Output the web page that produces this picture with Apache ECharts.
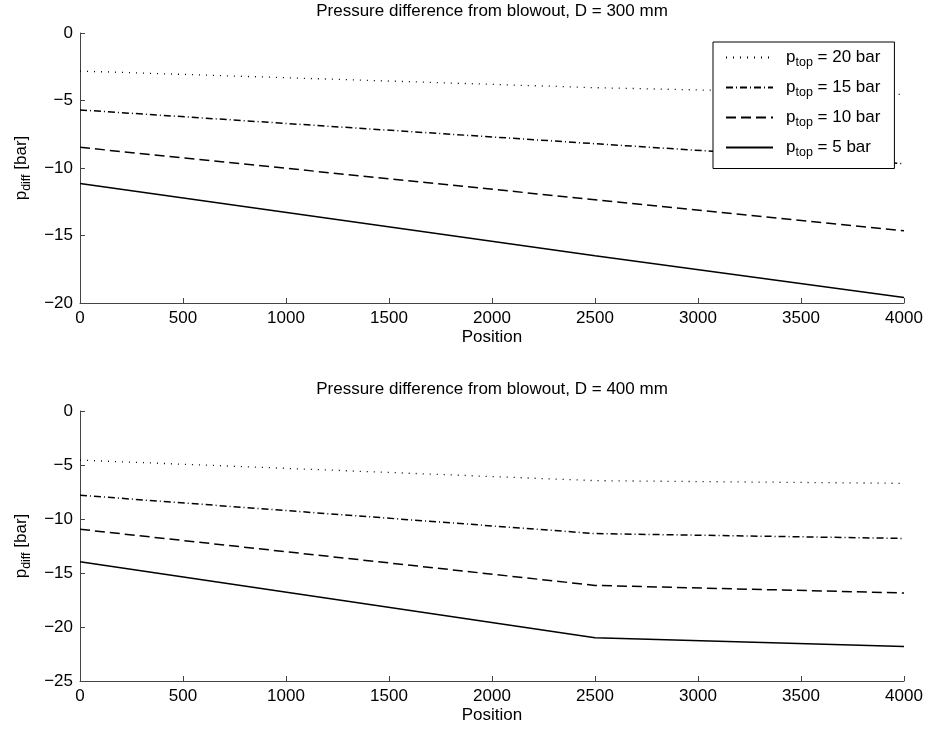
<!DOCTYPE html>
<html>
<head>
<meta charset="utf-8">
<script src="https://cdn.jsdelivr.net/npm/echarts@6/dist/echarts.min.js"></script>
<style>
html,body{margin:0;padding:0;background:#fff;}
#chart{width:928px;height:733px;}
</style>
</head>
<body>
<div id="chart"></div>
<script>
const positions = [0, 2500, 4000];
const ptopLabels = ['20', '15', '10', '5'];

const top20 = [-2.82, -4.05, -4.55];
const top15 = [-5.7, -8.2, -9.68];
const top10 = [-8.47, -12.35, -14.65];
const top5  = [-11.14, -16.5, -19.6];

const bot20 = [-4.55, -6.45, -6.7];
const bot15 = [-7.8, -11.35, -11.8];
const bot10 = [-10.95, -16.15, -16.85];
const bot5  = [-13.95, -21.0, -21.8];

const titles = ['Pressure difference from blowout, D = 300 mm', 'Pressure difference from blowout, D = 400 mm'];

const FONT = 'Liberation Sans, Arial, sans-serif';
const FS = 17, SFS = 12.5;
const lineTypes = [[1, 6], [7, 3, 1, 3], [10, 5], 'solid'];

const topSeries = [top20, top15, top10, top5];
const botSeries = [bot20, bot15, bot10, bot5];

function pairs(vals) { return positions.map((p, i) => [p, vals[i]]); }

const series = [];
[topSeries, botSeries].forEach((set, gi) => {
  set.forEach((vals, si) => {
    series.push({
      type: 'line',
      name: ptopLabels[si],
      xAxisIndex: gi, yAxisIndex: gi,
      data: pairs(vals),
      symbol: 'none',
      color: '#000',
      animation: false,
      lineStyle: { color: '#000', width: si === 0 ? 1.3 : 1.5, type: lineTypes[si] }
    });
  });
});

const gridL = 80, gridR = 24, gridH = 270;
const tops = [33, 411];

const rich = {
  p: { fontFamily: FONT, fontSize: FS, color: '#000' },
  s: { fontFamily: FONT, fontSize: SFS, color: '#000', padding: [11, 0, 0, 0] }
};

function xAxis(i) {
  return {
    type: 'value', gridIndex: i, min: 0, max: 4000, interval: 500,
    name: 'Position', nameLocation: 'middle', nameGap: 26,
    nameTextStyle: { fontFamily: FONT, fontSize: FS, color: '#000' },
    axisLine: { show: true, onZero: false, lineStyle: { color: '#444', width: 1 } },
    axisTick: { show: true, inside: true, length: 5, lineStyle: { color: '#444' } },
    axisLabel: { fontFamily: FONT, fontSize: FS, color: '#000', margin: 7, formatter: v => String(v) },
    splitLine: { show: false }
  };
}
function yAxis(i, min) {
  return {
    type: 'value', gridIndex: i, min: min, max: 0, interval: 5,
    name: '{p|p}{s|diff}{p| [bar]}', nameLocation: 'middle', nameGap: 46, nameRotate: 90,
    nameTextStyle: { fontFamily: FONT, fontSize: FS, color: '#000', rich: rich },
    axisLine: { show: true, onZero: false, lineStyle: { color: '#444', width: 1 } },
    axisTick: { show: true, inside: true, length: 5, lineStyle: { color: '#444' } },
    axisLabel: { fontFamily: FONT, fontSize: FS, color: '#000', margin: 7,
      formatter: v => String(v).replace('-', '\u2212') },
    splitLine: { show: false }
  };
}

const option = {
  backgroundColor: '#fff',
  animation: false,
  grid: tops.map(t => ({ left: gridL, right: gridR, top: t, height: gridH, containLabel: false })),
  xAxis: [xAxis(0), xAxis(1)],
  yAxis: [yAxis(0, -20), yAxis(1, -25)],
  legend: {
    data: ptopLabels,
    orient: 'vertical',
    left: 713, top: 42,
    itemWidth: 47, itemHeight: 14, itemGap: 9.5,
    padding: [7, 14, 9, 12],
    borderColor: '#000', borderWidth: 1, backgroundColor: '#fff',
    selectedMode: false,
    itemStyle: { opacity: 0, color: 'transparent', borderWidth: 0 },
    textStyle: { fontFamily: FONT, fontSize: FS, color: '#000',
      rich: {
        q: { fontFamily: FONT, fontSize: FS, color: '#000', padding: [0, 0, 0, 8] },
        p: rich.p, s: rich.s
      } },
    formatter: name => '{q|p}{s|top}{p| = ' + name + ' bar}'
  },
  graphic: titles.map((t, i) => ({
    type: 'text',
    x: gridL + (928 - gridL - gridR) / 2,
    y: tops[i] - 22,
    style: { text: t, fontFamily: FONT, fontSize: FS, fill: '#000', textAlign: 'center', textVerticalAlign: 'middle', verticalAlign: 'middle' }
  })),
  series: series
};

const chart = echarts.init(document.getElementById('chart'), null, { renderer: 'canvas' });
chart.setOption(option);
</script>
</body>
</html>
